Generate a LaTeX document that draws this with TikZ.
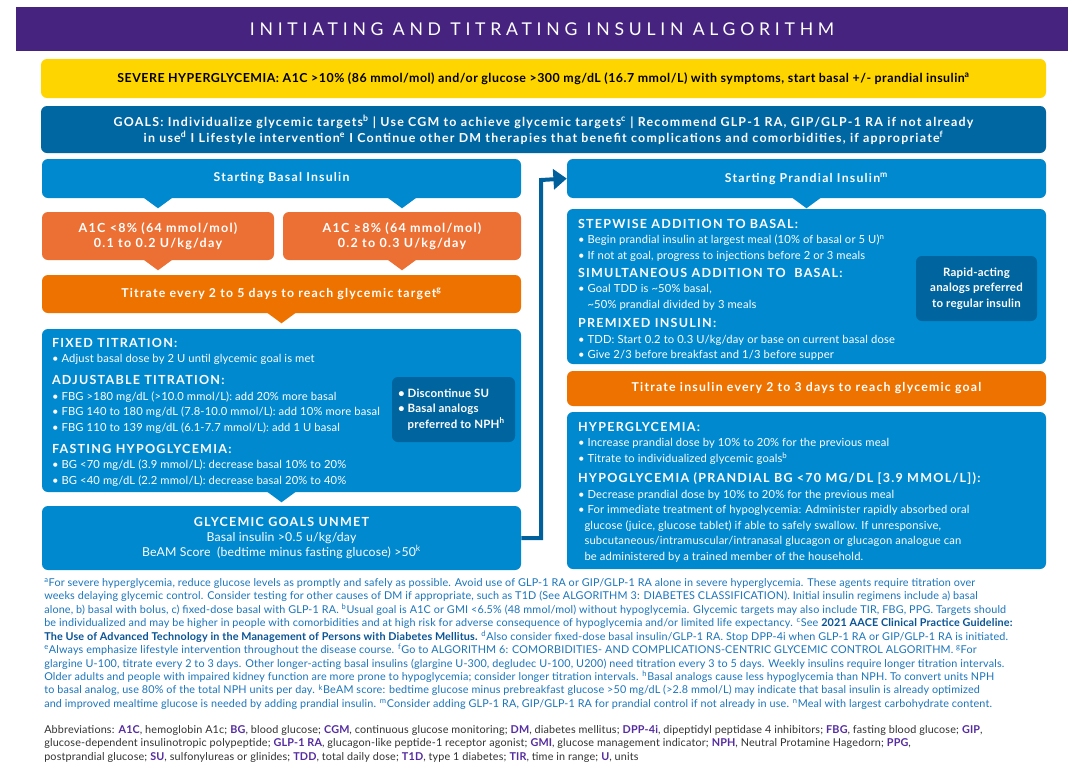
\documentclass[tikz,border=0pt]{standalone}
\usepackage{fontspec}
\setmainfont{Lato}
\usepackage{xcolor}
\usetikzlibrary{positioning,arrows.meta,fit,calc}

\definecolor{titlepurple}{RGB}{71,35,128}
\definecolor{severeyellow}{RGB}{255,213,0}
\definecolor{goalblue}{RGB}{0,103,163}
\definecolor{stepblue}{RGB}{0,137,207}
\definecolor{noteblue}{RGB}{0,100,158}
\definecolor{a1corange}{RGB}{236,112,52}
\definecolor{titrorange}{RGB}{238,114,0}
\definecolor{linkblue}{RGB}{0,96,156}
\definecolor{fntext}{RGB}{27,117,188}
\definecolor{fnbold}{RGB}{10,84,150}
\definecolor{abbrgray}{RGB}{50,50,50}
\definecolor{abbrpurple}{RGB}{84,44,160}

\newcommand{\titlefont}{\fontsize{13.2}{15}\selectfont\addfontfeature{LetterSpace=27}}
\newcommand{\bannerfont}{\fontsize{9.3}{11}\selectfont\bfseries\addfontfeature{LetterSpace=4}}
\newcommand{\goalfont}{\fontsize{9.3}{12}\selectfont\bfseries\addfontfeature{LetterSpace=10}}
\newcommand{\hdrfont}{\fontsize{9.2}{11.6}\selectfont\bfseries\addfontfeature{LetterSpace=10}}
\newcommand{\headfont}{\fontsize{9.4}{11.6}\selectfont\bfseries\addfontfeature{LetterSpace=10}}
\newcommand{\sidefont}{\fontsize{8.6}{11.6}\selectfont\bfseries\addfontfeature{LetterSpace=2}}
\newcommand{\bodyfont}{\normalfont\fontsize{8.4}{11.6}\selectfont\addfontfeature{LetterSpace=1.5}}
\newcommand{\notefont}{\fontsize{8.1}{10.1}\selectfont\addfontfeature{LetterSpace=1.5}}
\newcommand{\fnm}[1]{\textsuperscript{#1}}
\newcommand{\ab}[1]{\textbf{\color{abbrpurple}#1}}
% small downward notch under a box
\newcommand{\notch}[2]{\fill[#1] ($(#2)+(-15,-1)$) -- ($(#2)+(15,-1)$) -- ($(#2)+(0,10)$) -- cycle;}

\begin{document}
\begin{tikzpicture}[
        x=0.75pt, y=-0.75pt,
        panel/.style={rounded corners=4.5pt, inner sep=0pt, draw=none},
        bluepanel/.style={panel, fill=stepblue},
        hdr/.style={text=white, font=\hdrfont, align=center},
        body/.style={text=white, font=\bodyfont, align=left, anchor=north west, inner sep=0pt},
        notes/.style={font=\notefont, align=left, anchor=north west, inner sep=0pt},
        conn/.style={line width=3pt, draw=linkblue, -{Triangle[length=10pt,width=15pt]}}
    ]
    \fill[white] (0,0) rectangle (1080,778);
    \useasboundingbox (0,0) rectangle (1080,778);

    % title and banners
    \node[fill=titlepurple, inner sep=0pt, fit={(16,7)(1068,51)}] (titlebar) {};
    \node[text=white, font=\titlefont] (title) at (titlebar) {INITIATING AND TITRATING INSULIN ALGORITHM};

    \node[panel, fill=severeyellow, fit={(41,59)(1046,98)}] (severe) {};
    \node[font=\bannerfont] (severetxt) at (severe) {SEVERE HYPERGLYCEMIA: A1C >10\% (86 mmol/mol) and/or glucose >300 mg/dL (16.7 mmol/L) with symptoms, start basal +/- prandial insulin\fnm{a}};

    \node[panel, fill=goalblue, fit={(41,106)(1046,153)}] (goals) {};
    \node[text=white, font=\goalfont, align=center] (goalstxt) at (goals) {GOALS: Individualize glycemic targets\fnm{b} | Use CGM to achieve glycemic targets\fnm{c} | Recommend GLP-1 RA, GIP/GLP-1 RA if not already\\
        in use\fnm{d} I Lifestyle intervention\fnm{e} I Continue other DM therapies that benefit complications and comorbidities, if appropriate\fnm{f}};

    % basal column
    \node[bluepanel, fit={(42,159)(521,198)}] (basal) {};
    \node[hdr] (basaltxt) at (basal) {Starting Basal Insulin};

    \node[panel, fill=a1corange, fit={(42,212)(274,260)}] (lowa1c) {};
    \node[hdr, font=\headfont] (lowa1ctxt) at (lowa1c) {A1C <8\% (64 mmol/mol)\\0.1 to 0.2 U/kg/day};
    \node[panel, fill=a1corange, fit={(283,212)(521,260)}] (higha1c) {};
    \node[hdr, font=\headfont] (higha1ctxt) at (higha1c) {A1C ≥8\% (64 mmol/mol)\\0.2 to 0.3 U/kg/day};

    \node[panel, fill=titrorange, fit={(42,275)(521,313)}] (titrbasal) {};
    \node[hdr] (titrbasaltxt) at (titrbasal) {Titrate every 2 to 5 days to reach glycemic target\fnm{g}};

    \node[bluepanel, fit={(42,329)(521,492)}] (fixed) {};
    \node[body] (fixedtxt) at ($(fixed.north west)+(10,9)$) {%
        {\headfont FIXED TITRATION:}\\
        • Adjust basal dose by 2 U until glycemic goal is met\\[5pt]
        {\headfont ADJUSTABLE TITRATION:}\\
        • FBG >180 mg/dL (>10.0 mmol/L): add 20\% more basal\\
        • FBG 140 to 180 mg/dL (7.8-10.0 mmol/L): add 10\% more basal\\
        • FBG 110 to 139 mg/dL (6.1-7.7 mmol/L): add 1 U basal\\[5pt]
        {\headfont FASTING HYPOGLYCEMIA:}\\
        • BG <70 mg/dL (3.9 mmol/L): decrease basal 10\% to 20\%\\
        • BG <40 mg/dL (2.2 mmol/L): decrease basal 20\% to 40\%};
    \node[panel, fill=noteblue, fit={(392,377)(515,442)}] (sunote) {};
    \node[body, font=\sidefont, anchor=west] (sunotetxt) at ($(sunote.west)+(6,0)$) {• Discontinue SU\\• Basal analogs\\\phantom{• }preferred to NPH\fnm{h}};

    \node[bluepanel, fit={(42,506)(521,570)}] (unmet) {};
    \node[hdr] (unmettxt) at (unmet) {{\headfont GLYCEMIC GOALS UNMET}\\
        {\bodyfont\fontsize{9.2}{11.6}\selectfont Basal insulin >0.5 u/kg/day}\\
        {\bodyfont\fontsize{9.2}{11.6}\selectfont BeAM Score~ (bedtime minus fasting glucose) >50\fnm{k}}};

    % prandial column
    \node[bluepanel, fit={(567,159)(1046,198)}] (prandial) {};
    \node[hdr] (prandialtxt) at (prandial) {Starting Prandial Insulin\fnm{m}};

    \node[bluepanel, fit={(567,209)(1046,364)}] (stepwise) {};
    \node[body] (stepwisetxt) at ($(stepwise.north west)+(11,10)$) {%
        {\headfont STEPWISE ADDITION TO BASAL:}\\
        • Begin prandial insulin at largest meal (10\% of basal or 5 U)\fnm{n}\\
        • If not at goal, progress to injections before 2 or 3 meals\\[2pt]
        {\headfont SIMULTANEOUS ADDITION TO~ BASAL:}\\
        • Goal TDD is \textasciitilde50\% basal,\\
        \phantom{• }\textasciitilde50\% prandial divided by 3 meals\\[3pt]
        {\headfont PREMIXED INSULIN:}\\
        • TDD: Start 0.2 to 0.3 U/kg/day or base on current basal dose\\
        • Give 2/3 before breakfast and 1/3 before supper};
    \node[panel, fill=noteblue, fit={(916,256)(1037,321)}] (rapidnote) {};
    \node[hdr, font=\sidefont] (rapidnotetxt) at (rapidnote) {Rapid-acting\\analogs preferred\\to regular insulin};

    \node[panel, fill=titrorange, fit={(567,371)(1046,406)}] (titrprandial) {};
    \node[hdr] (titrprandialtxt) at (titrprandial) {Titrate insulin every 2 to 3 days to reach glycemic goal};

    \node[bluepanel, fit={(567,412)(1046,569)}] (hyper) {};
    \node[body] (hypertxt) at ($(hyper.north west)+(11,10)$) {%
        {\headfont HYPERGLYCEMIA:}\\
        • Increase prandial dose by 10\% to 20\% for the previous meal\\
        • Titrate to individualized glycemic goals\fnm{b}\\[4pt]
        {\headfont HYPOGLYCEMIA (PRANDIAL BG <70 MG/DL [3.9 MMOL/L]):}\\
        • Decrease prandial dose by 10\% to 20\% for the previous meal\\
        • For immediate treatment of hypoglycemia: Administer rapidly absorbed oral\\
        \phantom{•}glucose (juice, glucose tablet) if able to safely swallow. If unresponsive,\\
        \phantom{•}subcutaneous/intramuscular/intranasal glucagon or glucagon analogue can\\
        \phantom{•}be administered by a trained member of the household.};

    % notches
    \coordinate (n1) at (basal.south -| lowa1c.north);
    \coordinate (n2) at (basal.south -| higha1c.north);
    \coordinate (n3) at (lowa1c.south);
    \coordinate (n4) at (higha1c.south);
    \notch{stepblue}{n1}
    \notch{stepblue}{n2}
    \notch{a1corange}{n3}
    \notch{a1corange}{n4}
    \notch{titrorange}{titrbasal.south}
    \notch{stepblue}{fixed.south}
    \notch{stepblue}{prandial.south}

    % link to prandial column
    \coordinate (turn) at (541,180);
    \draw[conn] (unmet.east) -| (turn) -- (prandial.west);

    % footnotes
    \node[notes, text=fntext] (footnotes) at (44,578) {%
        \fnm{a}For severe hyperglycemia, reduce glucose levels as promptly and safely as possible. Avoid use of GLP-1 RA or GIP/GLP-1 RA alone in severe hyperglycemia. These agents require titration over\\
        weeks delaying glycemic control. Consider testing for other causes of DM if appropriate, such as T1D (See ALGORITHM 3: DIABETES CLASSIFICATION). Initial insulin regimens include a) basal\\
        alone, b) basal with bolus, c) fixed-dose basal with GLP-1 RA. \fnm{b}Usual goal is A1C or GMI <6.5\% (48 mmol/mol) without hypoglycemia. Glycemic targets may also include TIR, FBG, PPG. Targets should\\
        be individualized and may be higher in people with comorbidities and at high risk for adverse consequence of hypoglycemia and/or limited life expectancy. \fnm{c}See {\bfseries\color{fnbold}2021 AACE Clinical Practice Guideline:}\\
        {\bfseries\color{fnbold}The Use of Advanced Technology in the Management of Persons with Diabetes Mellitus.} \fnm{d}Also consider fixed-dose basal insulin/GLP-1 RA. Stop DPP-4i when GLP-1 RA or GIP/GLP-1 RA is initiated.\\
        \fnm{e}Always emphasize lifestyle intervention throughout the disease course. \fnm{f}Go to ALGORITHM 6: COMORBIDITIES- AND COMPLICATIONS-CENTRIC GLYCEMIC CONTROL ALGORITHM. \fnm{g}For\\
        glargine U-100, titrate every 2 to 3 days. Other longer-acting basal insulins (glargine U-300, degludec U-100, U200) need titration every 3 to 5 days. Weekly insulins require longer titration intervals.\\
        Older adults and people with impaired kidney function are more prone to hypoglycemia; consider longer titration intervals. \fnm{h}Basal analogs cause less hypoglycemia than NPH. To convert units NPH\\
        to basal analog, use 80\% of the total NPH units per day. \fnm{k}BeAM score: bedtime glucose minus prebreakfast glucose >50 mg/dL (>2.8 mmol/L) may indicate that basal insulin is already optimized\\
        and improved mealtime glucose is needed by adding prandial insulin. \fnm{m}Consider adding GLP-1 RA, GIP/GLP-1 RA for prandial control if not already in use. \fnm{n}Meal with largest carbohydrate content.};

    \node[notes, text=abbrgray] (abbrev) at (44,725) {%
        Abbreviations: \ab{A1C}, hemoglobin A1c; \ab{BG}, blood glucose; \ab{CGM}, continuous glucose monitoring; \ab{DM}, diabetes mellitus; \ab{DPP-4i}, dipeptidyl peptidase 4 inhibitors; \ab{FBG}, fasting blood glucose; \ab{GIP},\\
        glucose-dependent insulinotropic polypeptide; \ab{GLP-1 RA}, glucagon-like peptide-1 receptor agonist; \ab{GMI}, glucose management indicator; \ab{NPH}, Neutral Protamine Hagedorn; \ab{PPG},\\
        postprandial glucose; \ab{SU}, sulfonylureas or glinides; \ab{TDD}, total daily dose; \ab{T1D}, type 1 diabetes; \ab{TIR}, time in range; \ab{U}, units};
\end{tikzpicture}
\end{document}
